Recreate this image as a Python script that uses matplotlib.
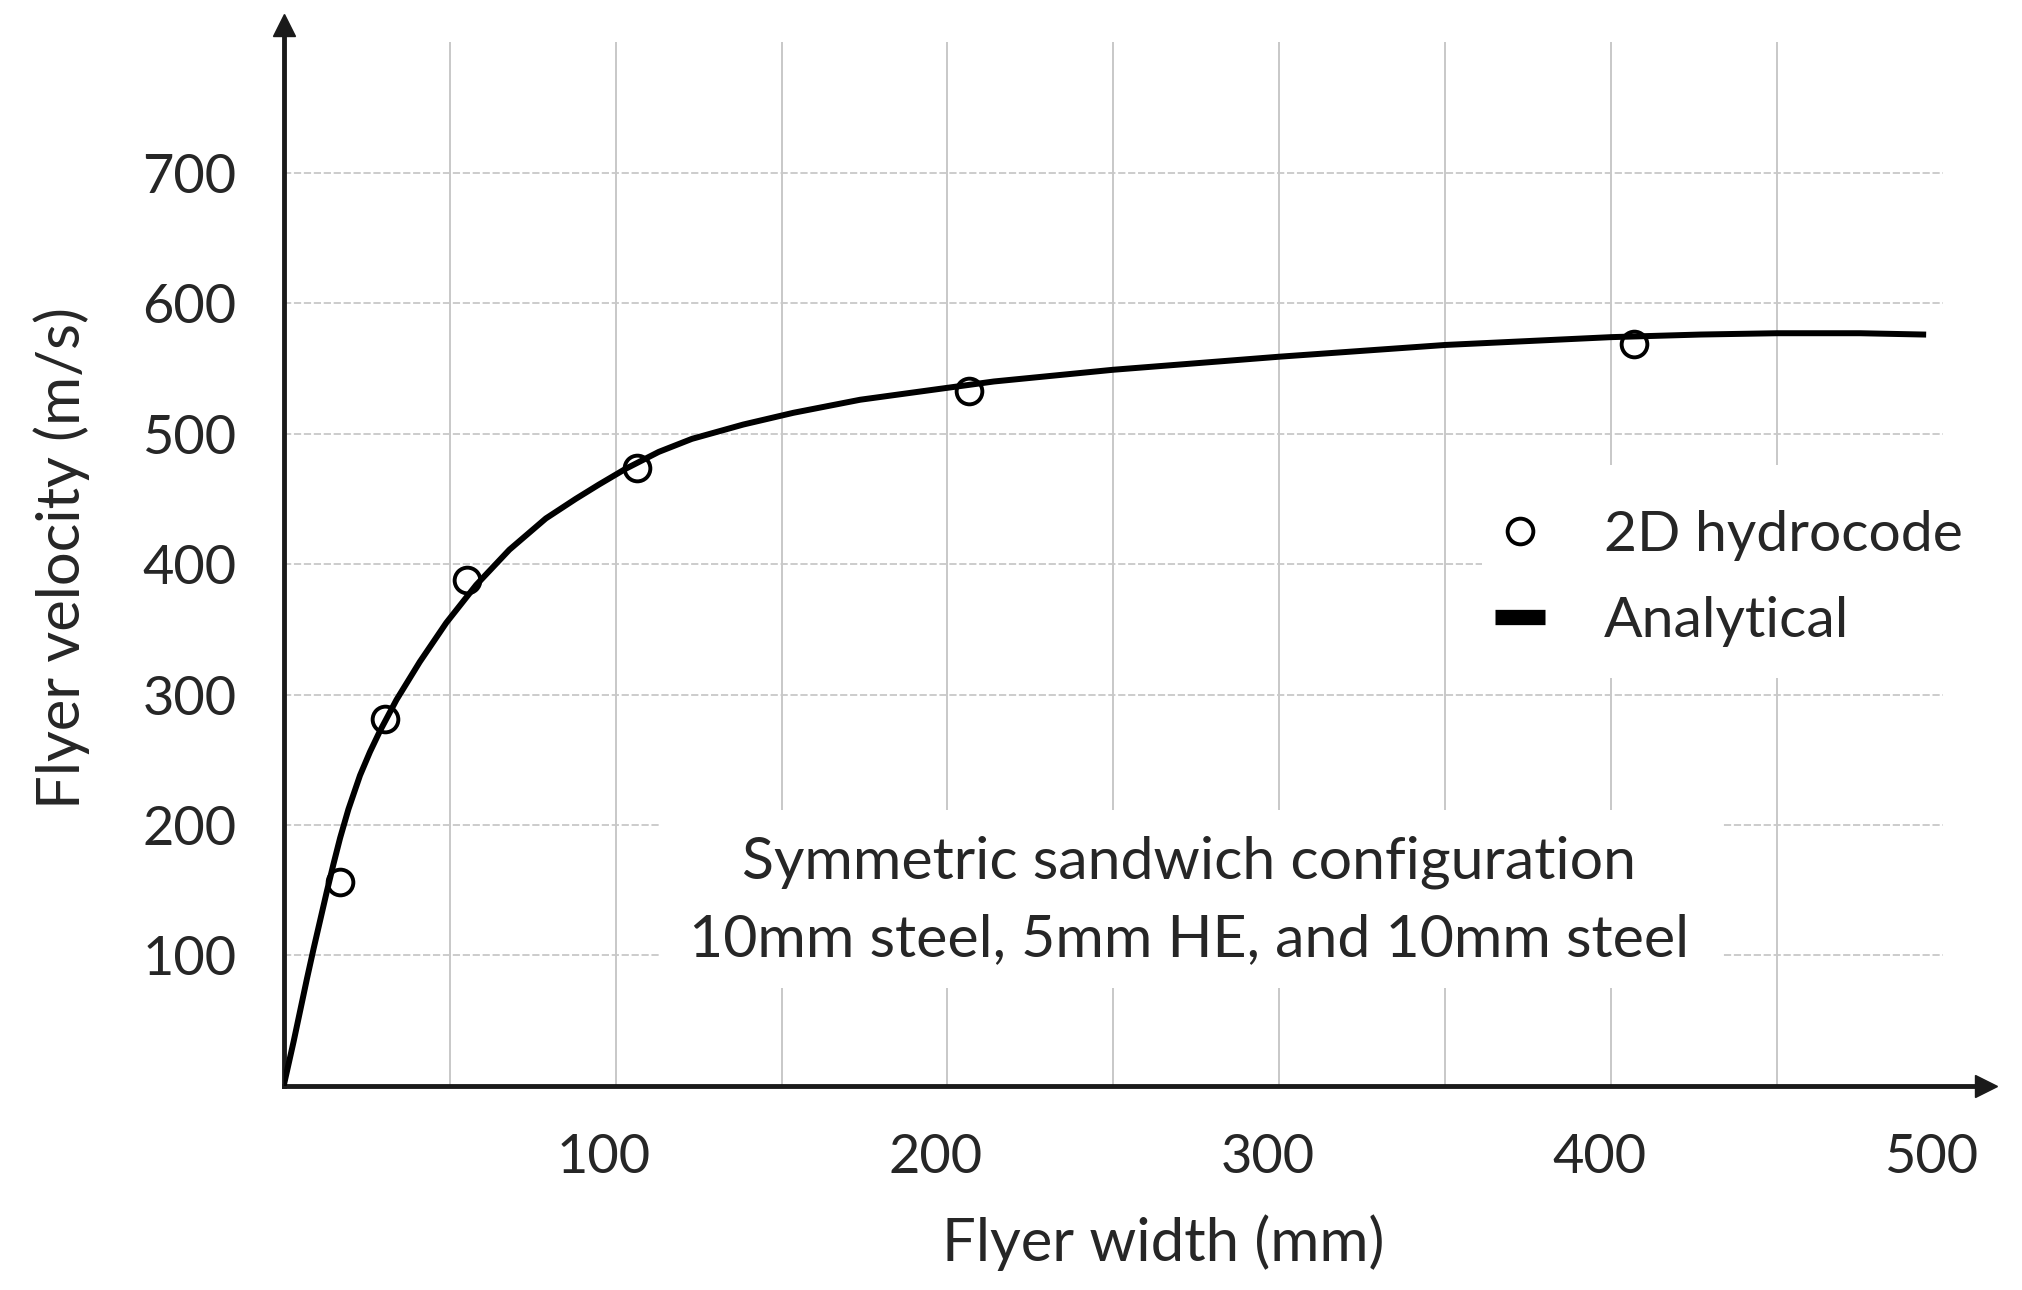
import matplotlib.pyplot as plt
import matplotlib.transforms as mtransforms
from matplotlib.lines import Line2D
from matplotlib.patches import Rectangle

plt.rcParams['font.family'] = ['Lato', 'DejaVu Sans']

# 2D hydrocode points
hydro_width = [17.0, 30.5, 55.3, 106.6, 206.6, 407.0]
hydro_velocity = [156, 281, 388, 474, 533, 569]

# analytical curve
analytic_width = [0, 3, 5, 7, 9, 11, 13, 15, 17, 19.5, 23, 26, 29, 34, 41, 49, 58, 68, 79,
                  88, 95, 103, 113, 123, 138.5, 153.6, 173.7, 193.8, 214, 234, 250,
                  300, 350, 400, 427, 450, 475, 494]
analytic_velocity = [0, 34, 58, 82, 105, 127, 149, 170, 190, 212, 238, 256, 272, 296, 325,
                     355, 384, 411, 435, 450, 461, 473, 486, 496, 507, 516, 526, 533, 540,
                     545, 549, 559, 568, 574, 576, 577, 577, 576]

x_ticks = [100, 200, 300, 400, 500]
y_ticks = [100, 200, 300, 400, 500, 600, 700]
grid_x = [50, 100, 150, 200, 250, 300, 350, 400, 450]
grid_y = [100, 200, 300, 400, 500, 600, 700]

legend_labels = ['2D hydrocode', 'Analytical']
note = 'Symmetric sandwich configuration\n10mm steel, 5mm HE, and 10mm steel'

text_color = '#262626'
axis_color = '#1a1a1a'

fig = plt.figure(figsize=(20.22, 12.9), dpi=100)
ax = fig.add_axes([0.1403, 0.1583, 0.8420, 0.8220])
ax.set_xlim(0, 513)
ax.set_ylim(0, 813)

for side in ['top', 'right']:
    ax.spines[side].set_visible(False)
for side in ['left', 'bottom']:
    ax.spines[side].set_linewidth(3.5)
    ax.spines[side].set_color(axis_color)

# arrow heads
ax.plot(1, 0, '>', color=axis_color, ms=16, transform=ax.get_yaxis_transform(), clip_on=False)
ax.plot(0, 1, '^', color=axis_color, ms=16, transform=ax.get_xaxis_transform(), clip_on=False)

# grid
ax.vlines(grid_x, 0, 800, colors='#c4c4c4', lw=1.3, zorder=0.5)
ax.hlines(grid_y, 0, 500, colors='#c8c8c8', lw=1.3, linestyles=(0, (4, 1.5)), zorder=0.5)

# white boxes behind the note and the legend
ax.add_patch(Rectangle((113, 75), 320.4, 136.5, fc='white', ec='none', zorder=1))
ax.add_patch(Rectangle((361, 313), 150, 163, fc='white', ec='none', zorder=1))

ax.plot(analytic_width, analytic_velocity, color='black', lw=4.3, zorder=3)
ax.plot(hydro_width, hydro_velocity, 'o', ms=18.5, mfc='none', mec='black', mew=2.8, zorder=4)

handles = [Line2D([], [], ls='none', marker='o', ms=18.5, mfc='none', mec='black', mew=2.8),
           Line2D([], [], color='black', lw=11, solid_capstyle='butt')]
ax.legend(handles, legend_labels, loc='center left', bbox_to_anchor=(365, 389),
          bbox_transform=ax.transData, frameon=False, fontsize=41, handlelength=0.88,
          handletextpad=1.03, labelspacing=0.6, borderpad=0, borderaxespad=0,
          labelcolor=text_color)

ax.text(272.8, 141.8, note, ha='center', va='center', fontsize=42.5, linespacing=1.58,
        color=text_color, zorder=2)

ax.set_xticks(x_ticks)
ax.set_yticks(y_ticks)
ax.tick_params(length=0, labelsize=39, labelcolor=text_color, pad=34)
offset = mtransforms.ScaledTranslation(-0.12, 0, fig.dpi_scale_trans)
for lab in ax.get_xticklabels():
    lab.set_transform(lab.get_transform() + offset)

ax.set_xlabel('Flyer width (mm)', fontsize=43, color=text_color)
ax.xaxis.set_label_coords(0.5165, -0.1482)
ax.xaxis.label.set_va('center')
ax.set_ylabel('Flyer velocity (m/s)', fontsize=43, color=text_color)
ax.yaxis.set_label_coords(-0.1302, 0.4977)
ax.yaxis.label.set_va('center')

fig.savefig('out.png', dpi=100)
